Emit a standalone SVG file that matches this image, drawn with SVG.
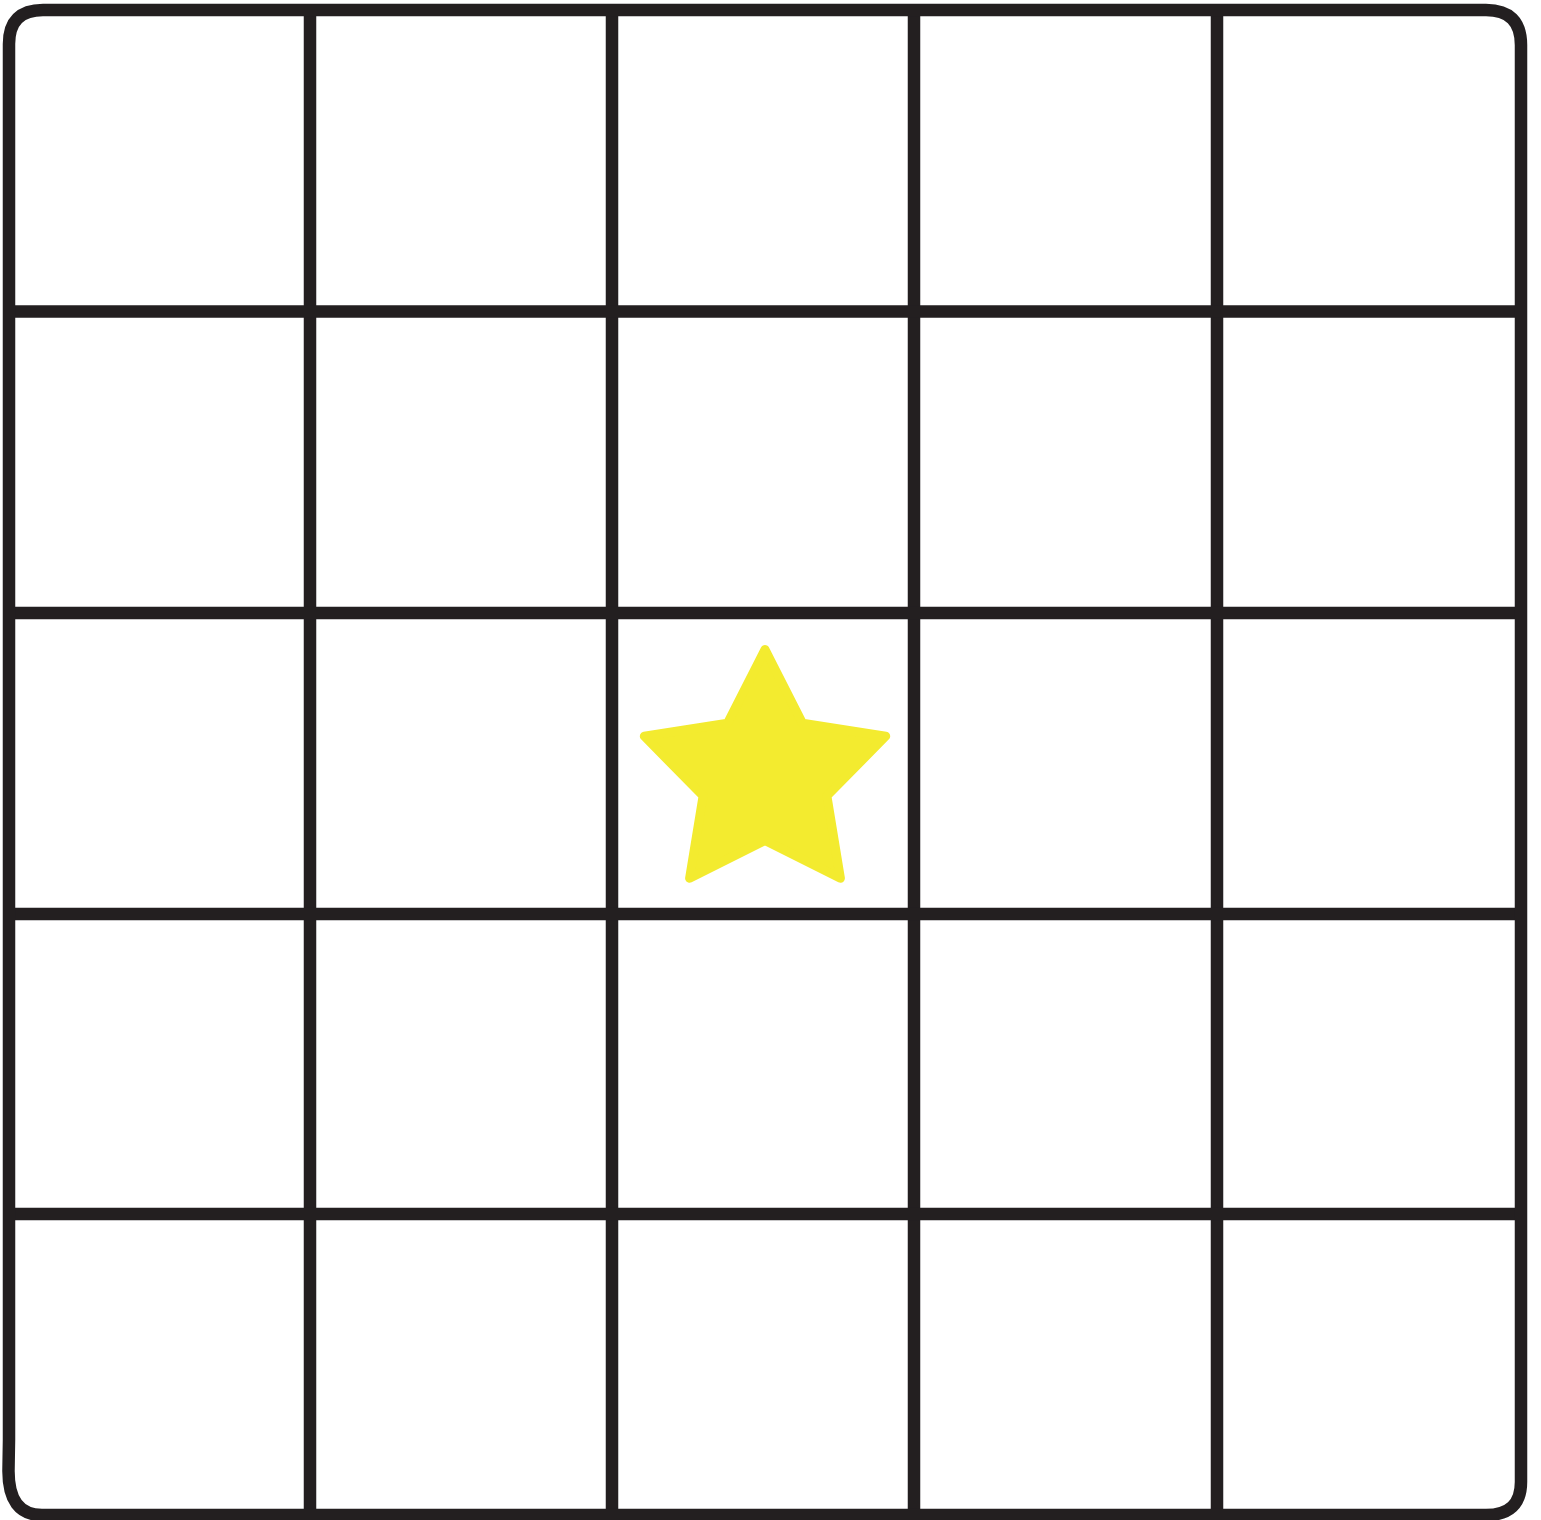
<svg xmlns="http://www.w3.org/2000/svg" width="1541" height="1520" viewBox="0 0 1541 1520">
<style>
.ln{stroke:#231f20;stroke-width:12.5;fill:none;stroke-linecap:butt}
.bd{stroke:#231f20;stroke-width:12.5;fill:none;stroke-linejoin:round}
.star{fill:#f3eb2f;stroke:#f3eb2f;stroke-width:9;stroke-linejoin:round}
</style>
<rect width="1541" height="1520" fill="#ffffff"/>
<g id="grid-lines">
<line class="ln" x1="310" y1="10" x2="310" y2="1515"/>
<line class="ln" x1="612" y1="10" x2="612" y2="1515"/>
<line class="ln" x1="914" y1="10" x2="914" y2="1515"/>
<line class="ln" x1="1217" y1="10" x2="1217" y2="1515"/>
<line class="ln" x1="9" y1="311.5" x2="1521" y2="311.5"/>
<line class="ln" x1="9" y1="613" x2="1521" y2="613"/>
<line class="ln" x1="9" y1="914" x2="1521" y2="914"/>
<line class="ln" x1="9" y1="1214" x2="1521" y2="1214"/>
</g>
<g id="border">
<path class="bd" d="M 9 1440 L 9 44 Q 9 10 43 10 L 1486 10 Q 1521 10 1521 45 L 1521 1482 Q 1521 1515 1486 1515 L 42 1515 Q 8 1515 8.5 1470 Z"/>
</g>
<g id="star">
<polygon class="star" points="765,649.5 802.5,723.3 885.7,736.2 826.9,795.9 840.4,878.3 765,840.5 689.6,878.3 703.1,795.9 644.3,736.2 727.5,723.3"/>
</g>
</svg>
